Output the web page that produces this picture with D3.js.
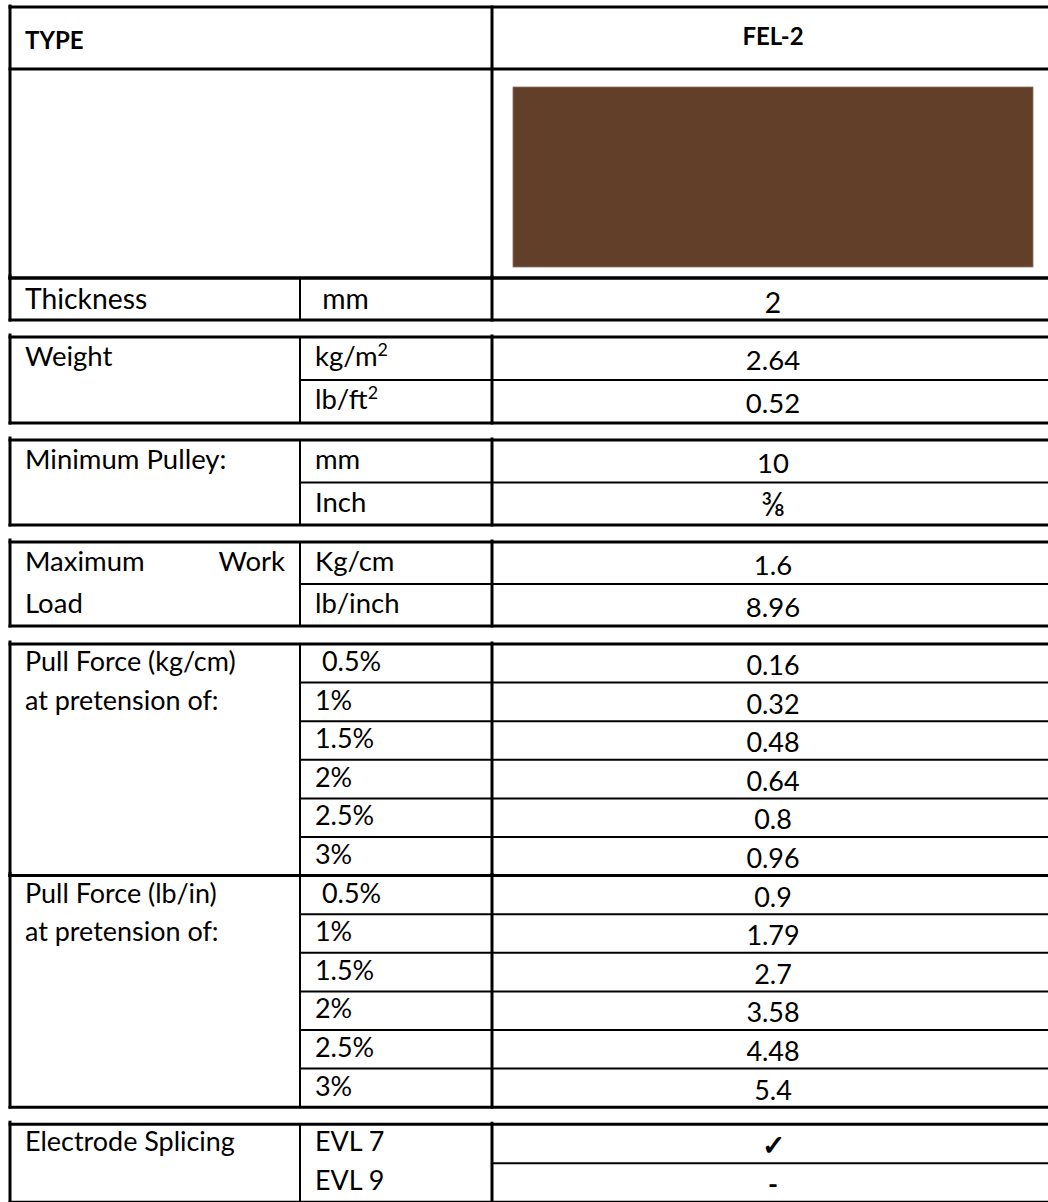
<!DOCTYPE html>
<html lang="en">
<head>
  <meta charset="utf-8">
  <title>FEL-2</title>
  <style>
    body { margin: 0; background: #fff; }
    svg { display: block; }
    text { font-family: Lato, "Open Sans", sans-serif; fill: #000; white-space: pre; }
  </style>
</head>
<body>
  <script src="https://cdn.jsdelivr.net/npm/d3@7/dist/d3.min.js"></script>
  <script>
    // table contents
    var typeLabel = "TYPE";
    var productName = "FEL-2";

    var thicknessLabel = ["Thickness"];
    var thicknessUnits = [" mm"];
    var thicknessValues = ["2"];

    var weightLabel = ["Weight"];
    var weightUnits = ["kg/m^2", "lb/ft^2"];
    var weightValues = ["2.64", "0.52"];

    var pulleyLabel = ["Minimum Pulley:"];
    var pulleyUnits = ["mm", "Inch"];
    var pulleyValues = ["10", "\u215C"];

    var workLabel = ["Maximum Work", "Load"];
    var workUnits = ["Kg/cm", "lb/inch"];
    var workValues = ["1.6", "8.96"];

    var pretension = [" 0.5%", "1%", "1.5%", "2%", "2.5%", "3%"];
    var pullKgLabel = ["Pull Force (kg/cm)", "at pretension of:"];
    var pullKgValues = ["0.16", "0.32", "0.48", "0.64", "0.8", "0.96"];
    var pullLbLabel = ["Pull Force (lb/in)", "at pretension of:"];
    var pullLbValues = ["0.9", "1.79", "2.7", "3.58", "4.48", "5.4"];

    var spliceLabel = ["Electrode Splicing"];
    var spliceUnits = ["EVL 7", "EVL 9"];
    var spliceValues = ["\u2713", "-"];

    // layout
    var width = 1048;
    var height = 1202;
    var fontSize = 27.5;
    var boldSize = 24;
    var thick = 3;
    var thin = 2;
    var gap = 17;
    var tableTop = 7;
    var headerH = 62;
    var swatchH = 209;

    var x = d3.scaleOrdinal()
              .domain(["label", "unit", "value", "end"])
              .range([10, 300, 492, 1054]);
    var valueX = (x("value") + x("end")) / 2;

    var blocks = [
      { label: thicknessLabel, units: thicknessUnits, values: thicknessValues, rowH: 42, gap: 0, scale: 1.03, shift: 2 },
      { label: weightLabel, units: weightUnits, values: weightValues, rowH: 43, gap: gap, scale: 1 },
      { label: pulleyLabel, units: pulleyUnits, values: pulleyValues, rowH: 42.5, gap: gap, scale: 1 },
      { label: workLabel, units: workUnits, values: workValues, rowH: 42, gap: gap, scale: 1, justify: true },
      { label: pullKgLabel, units: pretension, values: pullKgValues, rowH: 38.6, gap: gap + 1, scale: 0.98 },
      { label: pullLbLabel, units: pretension, values: pullLbValues, rowH: 38.6, gap: 0, scale: 0.98 },
      { label: spliceLabel, units: spliceUnits, values: spliceValues, rowH: 39, gap: gap, scale: 0.98, valueOnly: true }
    ];

    var svg = d3.select("body").append("svg")
                .attr("width", width)
                .attr("height", height);

    var gText = svg.append("g");
    var gLines = svg.append("g");

    function hline(x1, x2, yy, w) {
      gLines.append("line")
            .attr("x1", x1).attr("x2", x2)
            .attr("y1", yy).attr("y2", yy)
            .attr("stroke", "#000")
            .attr("stroke-width", w)
            .attr("stroke-linecap", "square");
    }
    function vline(xx, y1, y2, w) {
      gLines.append("line")
            .attr("x1", xx).attr("x2", xx)
            .attr("y1", y1).attr("y2", y2)
            .attr("stroke", "#000")
            .attr("stroke-width", w)
            .attr("stroke-linecap", "square");
    }

    // "kg/m^2" -> kg/m with a superscript 2
    function addText(sel, str) {
      var parts = str.split("^");
      sel.append("tspan").text(parts[0]);
      if (parts.length > 1) {
        sel.append("tspan")
           .attr("font-size", "0.65em")
           .attr("dy", "-0.6em")
           .text(parts[1]);
      }
      return sel;
    }

    // header + swatch
    var headY = d3.scaleOrdinal()
                  .domain(["type", "swatch"])
                  .range([tableTop, tableTop + headerH]);
    var swatchTop = headY("swatch");
    var swatchBottom = swatchTop + swatchH;

    gText.append("text")
         .attr("x", x("label") + 15)
         .attr("y", headY("type") + headerH / 2 + boldSize * 0.36 + 2)
         .attr("font-size", boldSize)
         .attr("font-weight", "bold")
         .text(typeLabel);

    gText.append("text")
         .attr("x", valueX)
         .attr("y", headY("type") + headerH / 2 + boldSize * 0.36 - 2)
         .attr("text-anchor", "middle")
         .attr("font-size", boldSize)
         .attr("font-weight", "bold")
         .text(productName);

    gText.append("rect")
         .attr("x", x("value") + 21)
         .attr("y", swatchTop + 18)
         .attr("width", x("end") - x("value") - 42)
         .attr("height", swatchH - 29)
         .attr("fill", "#623f29")
         .attr("stroke", "#8c7062")
         .attr("stroke-width", 0.8);

    hline(x("label"), x("end"), tableTop, thick);
    hline(x("label"), x("end"), swatchTop, thick);
    hline(x("label"), x("end"), swatchBottom, thick);
    vline(x("label"), tableTop - 1, swatchBottom, thick);
    vline(x("value"), tableTop, swatchBottom, thick);

    function valueSize(d, fs) {
      if (d === "\u2713") return fs * 1.05;
      if (d === "\u215C") return fs * 1.2;
      return fs;
    }

    // data blocks
    var cursor = swatchBottom;
    blocks.forEach(function(b) {
      var blockTop = cursor + b.gap;
      var n = b.units.length;
      var y = d3.scaleBand()
                .domain(d3.range(n))
                .range([blockTop, blockTop + n * b.rowH])
                .paddingInner(0);
      var fs = fontSize * b.scale;
      var blockBottom = blockTop + n * b.rowH;
      var shift = b.shift || 0;
      var mid = function(i) { return y(i) + y.bandwidth() / 2 + shift; };

      // left group label, one line per row
      b.label.forEach(function(line, i) {
        var ty = mid(i) + fs * 0.36 - 2;
        if (b.justify && i === 0) {
          var words = line.split(" ");
          gText.append("text")
               .attr("x", x("label") + 15).attr("y", ty)
               .attr("font-size", fs).text(words[0]);
          gText.append("text")
               .attr("x", x("unit") - 15).attr("y", ty)
               .attr("text-anchor", "end")
               .attr("font-size", fs).text(words[words.length - 1]);
        } else {
          gText.append("text")
               .attr("x", x("label") + 15).attr("y", ty)
               .attr("font-size", fs).text(line);
        }
      });

      // unit column
      gText.selectAll(null)
           .data(b.units)
           .enter().append("text")
           .attr("x", x("unit") + 15)
           .attr("y", function(d, i) { return mid(i) + fs * 0.36 - 2; })
           .attr("font-size", fs)
           .each(function(d) { addText(d3.select(this), d); });

      // value column
      gText.selectAll(null)
           .data(b.values)
           .enter().append("text")
           .attr("x", valueX)
           .attr("y", function(d, i) { return mid(i) + fs * 0.36 + 2; })
           .attr("text-anchor", "middle")
           .attr("font-size", function(d) { return valueSize(d, fs); })
           .attr("font-family", function(d) { return d === "\u2713" ? "DejaVu Sans" : null; })
           .attr("font-weight", function(d) { return (d === "-" || d === "\u2713") ? "bold" : null; })
           .text(function(d) { return d; });

      // grid
      hline(x("label"), x("end"), blockTop, thick);
      hline(x("label"), x("end"), blockBottom, thick);
      vline(x("label"), blockTop - 2, blockBottom, thick);
      vline(x("unit"), blockTop, blockBottom, thin);
      vline(x("value"), blockTop - 1, blockBottom, thick);
      d3.range(1, n).forEach(function(i) {
        hline(b.valueOnly ? x("value") : x("unit"), x("end"), y(i), thin);
      });

      cursor = blockBottom;
    });
  </script>
</body>
</html>
